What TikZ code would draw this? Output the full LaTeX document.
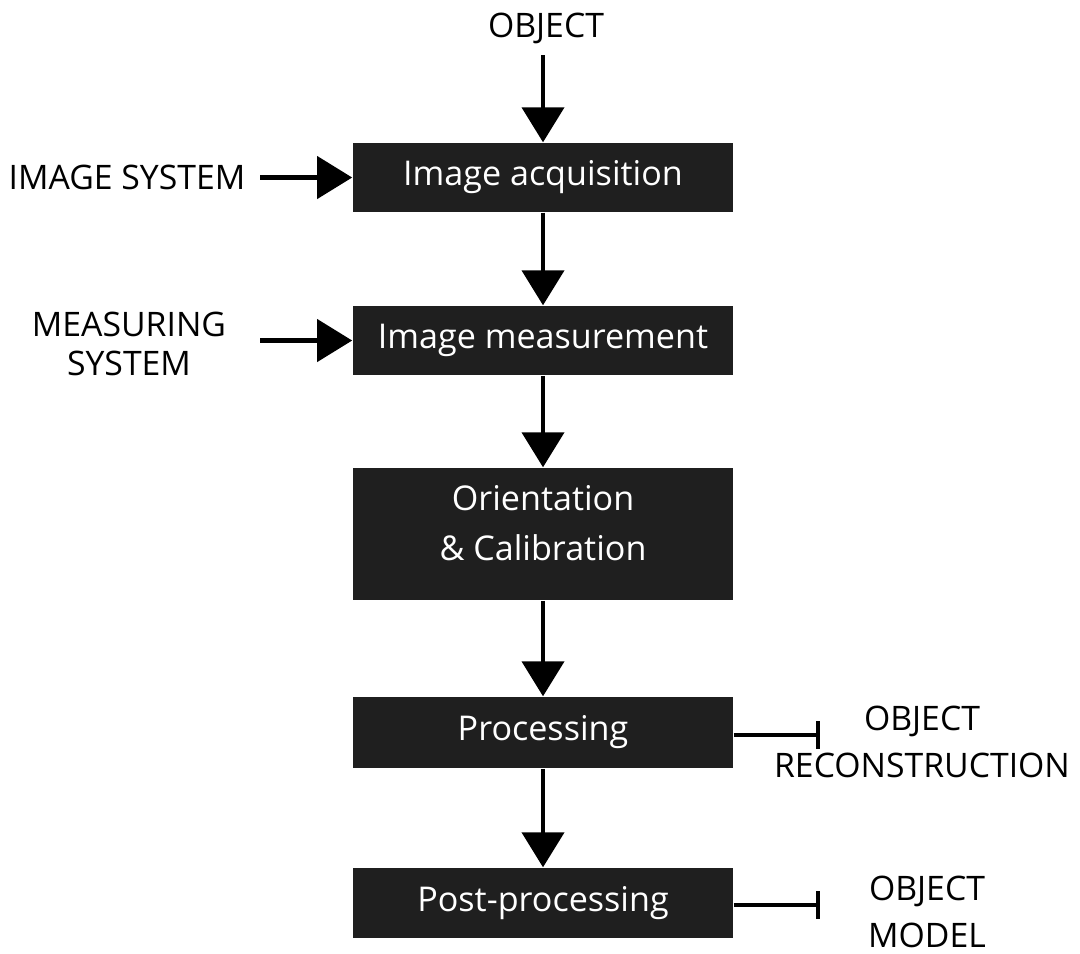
\documentclass[tikz,border=0pt]{standalone}
\usepackage{fontspec}
\setmainfont{Open Sans}
\usetikzlibrary{arrows.meta}
\begin{document}
\begin{tikzpicture}[x=0.01cm,y=-0.01cm,
  box/.style={fill=black!88,text=white,minimum width=3.8cm,inner sep=0pt,align=center,font=\fontsize{9.7}{14.2}\selectfont},
  lbl/.style={align=center,inner sep=0pt,font=\fontsize{9.6}{13.4}\selectfont},
  arr/.style={line width=0.042cm,-{Triangle[length=0.35cm,width=0.42cm]}},
  bar/.style={line width=0.042cm,-{Bar[width=0.28cm]}}]
\useasboundingbox (0,0) rectangle (1080,953);
\node[box,minimum height=0.69cm] (acq) at (543,177.5) {Image acquisition};
\node[box,minimum height=0.69cm] (mea) at (543,340.5) {Image measurement};
\node[box,minimum height=1.32cm] (ori) at (543,534) {Orientation\\\& Calibration\rule[-0.22cm]{0pt}{0pt}};
\node[box,minimum height=0.71cm] (pro) at (543,732.5) {Processing};
\node[box,minimum height=0.70cm] (post) at (543,903) {Post-processing};
\node[lbl] (obj) at (546,28) {OBJECT};
\node[lbl] (imsys) at (127,177) {IMAGE SYSTEM};
\node[lbl,font=\fontsize{9.6}{11.1}\selectfont] (meas) at (129,344) {MEASURING\\SYSTEM};
\node[lbl] (rec) at (922,742) {OBJECT\\RECONSTRUCTION};
\node[lbl] (mod) at (927,912) {OBJECT\\MODEL};
\coordinate (objend) at (543,55);
\coordinate (imsysend) at (260,177.5);
\coordinate (measend) at (260,340.5);
\coordinate (recend) at (820,735);
\coordinate (modend) at (820,905);
\draw[arr] (objend) -- (acq);
\draw[arr] (imsysend) -- (acq);
\draw[arr] (measend) -- (mea);
\draw[arr] (acq) -- (mea);
\draw[arr] (mea) -- (ori);
\draw[arr] (ori) -- (pro);
\draw[arr] (pro) -- (post);
\draw[bar] (pro.east |- recend) -- (recend);
\draw[bar] (post.east |- modend) -- (modend);
\end{tikzpicture}
\end{document}
